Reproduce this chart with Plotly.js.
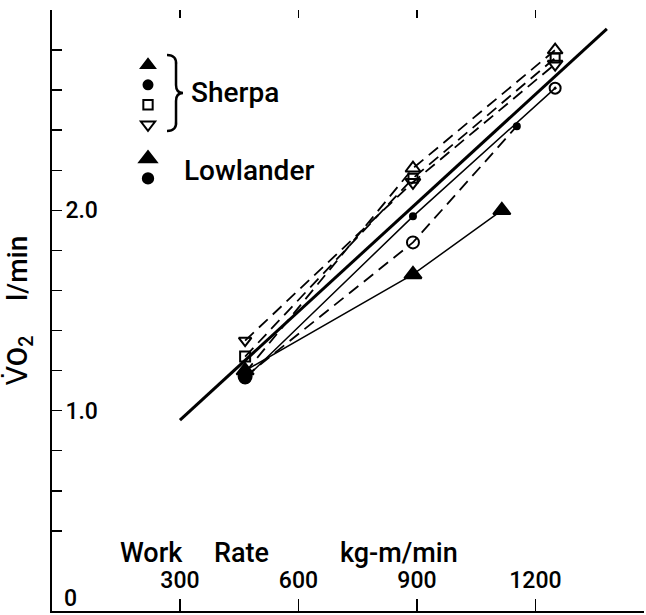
<!DOCTYPE html>
<html><head><meta charset="utf-8">
<script src="https://cdn.plot.ly/plotly-3.0.1.min.js"></script>
<style>html,body{margin:0;padding:0;background:#fff}</style>
</head><body><div id="chart" style="width:646px;height:615px"></div>
<script>
// Work rate (kg-m/min) vs VO2 (l/min)
const sherpaTriX  = [465, 890, 1250];
const sherpaTriY  = [1.19, 2.21, 2.80];
const sherpaCircX = [465, 890, 1250];
const sherpaCircY = [1.16, 1.97, 2.61];
const sherpaSqX   = [465, 890, 1250];
const sherpaSqY   = [1.27, 2.16, 2.76];
const sherpaDownX = [465, 890, 1250];
const sherpaDownY = [1.35, 2.14, 2.73];
const lowTriX  = [465, 890, 1115];
const lowTriY  = [1.20, 1.68, 2.00];
const lowCircX = [465, 890, 1153];
const lowCircY = [1.17, 1.84, 2.42];
const fitX = [300, 1381];
const fitY = [0.953, 2.906];

const xTickVals = [300, 600, 900, 1200];
const xTickText = ['300', '600', '900', '1200'];
const yTickVals = [0.2, 0.4, 0.6, 0.8, 1.0, 1.2, 1.4, 1.6, 1.8, 2.0, 2.2, 2.4, 2.6, 2.8, 3.0];
const yTickText = ['', '', '', '', '1.0', '', '', '', '', '2.0', '', '', '', '', ''];

const FONT = 'Roboto, DejaVu Sans, sans-serif';
const INK = '#000000';
const L = 52, T = 10, W = 592, H = 601;
const pxX = p => (p - L) / W;
const pxY = p => 1 - (p - T) / H;

function lineTrace(x, y, dash, width, xa) {
  return {x: x, y: y, mode: 'lines', type: 'scatter', showlegend: false, hoverinfo: 'skip',
          xaxis: xa || 'x', line: {color: INK, width: width, dash: dash}};
}
function markTrace(x, y, symbols, sizes, group) {
  return {x: x, y: y, mode: 'markers', type: 'scatter', name: '', legendgroup: group, opacity: 1,
          marker: {color: INK, opacity: 1, symbol: symbols, size: sizes, line: {color: INK, width: 2}}};
}

const data = [
  lineTrace(fitX, fitY, 'solid', 3, 'x2'),
  lineTrace(sherpaTriX, sherpaTriY, '12px,7px', 1.8),
  lineTrace(sherpaCircX, sherpaCircY, 'solid', 1.5),
  lineTrace(sherpaSqX, sherpaSqY, '12px,7px', 1.8),
  lineTrace(sherpaDownX, sherpaDownY, '12px,7px', 1.8),
  lineTrace(lowTriX, lowTriY, 'solid', 1.5),
  lineTrace(lowCircX, lowCircY, '12px,7px', 1.8),
  markTrace(sherpaTriX, sherpaTriY, ['triangle-up', 'triangle-up-open', 'triangle-up-open'], [10, 13, 13], 'sherpa'),
  markTrace(sherpaCircX, sherpaCircY, ['circle', 'circle', 'circle-open-dot'], [10, 6, 11], 'sherpa'),
  markTrace(sherpaSqX, sherpaSqY, ['square-open', 'square-open', 'square-open'], [10, 9, 9], 'sherpa'),
  markTrace(sherpaDownX, sherpaDownY, ['triangle-down-open', 'triangle-down-open', 'triangle-down-open'], [11, 13, 13], 'sherpa'),
  markTrace(lowTriX, lowTriY, ['triangle-up', 'triangle-up', 'triangle-up'], [15, 15, 15], 'low'),
  markTrace(lowCircX, lowCircY, ['circle', 'circle-open', 'circle'], [13, 12, 6], 'low')
];

function bracePath() {
  const pts = [[167,55],[177,55],[176,65],[176,85],[176,93],[183,93],[176,93],[176,101],[176,121],[177,131],[167,131]];
  const c = pts.map(p => pxX(p[0]).toFixed(4) + ',' + pxY(p[1]).toFixed(4));
  return 'M' + c[0] + ' Q' + c[1] + ' ' + c[2] + ' L' + c[3] + ' Q' + c[4] + ' ' + c[5] +
         ' Q' + c[6] + ' ' + c[7] + ' L' + c[8] + ' Q' + c[9] + ' ' + c[10];
}

function note(text, x, y, size, xanchor) {
  return {xref: 'paper', yref: 'paper', x: pxX(x), y: pxY(y), xanchor: xanchor || 'left', yanchor: 'middle',
          text: text, showarrow: false, font: {size: size, family: FONT, color: INK, weight: 500}};
}

const layout = {
  width: 646, height: 615,
  margin: {l: L, r: 646 - L - W, t: T, b: 615 - T - H},
  paper_bgcolor: '#fff', plot_bgcolor: '#fff',
  font: {family: FONT, color: INK},
  showlegend: true,
  legend: {x: pxX(128), y: pxY(50), xanchor: 'left', yanchor: 'top', bgcolor: 'rgba(0,0,0,0)',
           font: {size: 13}, traceorder: 'grouped', tracegroupgap: 14, itemwidth: 30},
  xaxis: {range: [-24, 1475], showgrid: false, zeroline: false, showline: true, linecolor: INK, linewidth: 1.5,
          tickvals: xTickVals, ticktext: xTickText, ticks: 'inside', ticklen: 12, tickwidth: 1.5, tickcolor: INK,
          ticklabelposition: 'inside', ticklabelstandoff: 8, tickfont: {size: 23, family: FONT, color: INK, weight: 500}},
  xaxis2: {matches: 'x', overlaying: 'x', side: 'top', anchor: 'y', showgrid: false, zeroline: false, showline: false,
           tickvals: xTickVals, ticks: 'inside', ticklen: 8, tickwidth: 1.5, tickcolor: INK, showticklabels: false},
  yaxis: {range: [0, 3.0], showgrid: false, zeroline: false, showline: true, linecolor: INK, linewidth: 2,
          tickvals: yTickVals, ticktext: yTickText, ticks: 'inside', ticklen: 10, tickwidth: 1.5, tickcolor: INK,
          ticklabelposition: 'inside', ticklabelstandoff: 5, tickfont: {size: 23, family: FONT, color: INK, weight: 500},
          title: {text: 'V\u0307O<sub>2</sub>\u00a0\u00a0\u00a0\u00a0\u00a0l/min', font: {size: 28, family: FONT, color: INK, weight: 500}}},
  yaxis2: {range: [0, 3.0], overlaying: 'y', side: 'right', anchor: 'x', showgrid: false, zeroline: false, showline: false,
           tickvals: yTickVals, ticks: 'inside', ticklen: 6, tickwidth: 1.5, tickcolor: INK, showticklabels: false},
  shapes: [{type: 'path', xref: 'paper', yref: 'paper', path: bracePath(), line: {color: INK, width: 2.5}}],
  annotations: [
    note('0', 70, 598, 23, 'center'),
    note('Work', 118, 553, 27),
    note('Rate', 212, 553, 27),
    note('kg-m/min', 338, 553, 27),
    note('Sherpa', 189, 92, 28),
    note('Lowlander', 182, 170, 28)
  ]
};

Plotly.newPlot('chart', data, layout, {displayModeBar: false, staticPlot: true});
</script>
</body></html>
